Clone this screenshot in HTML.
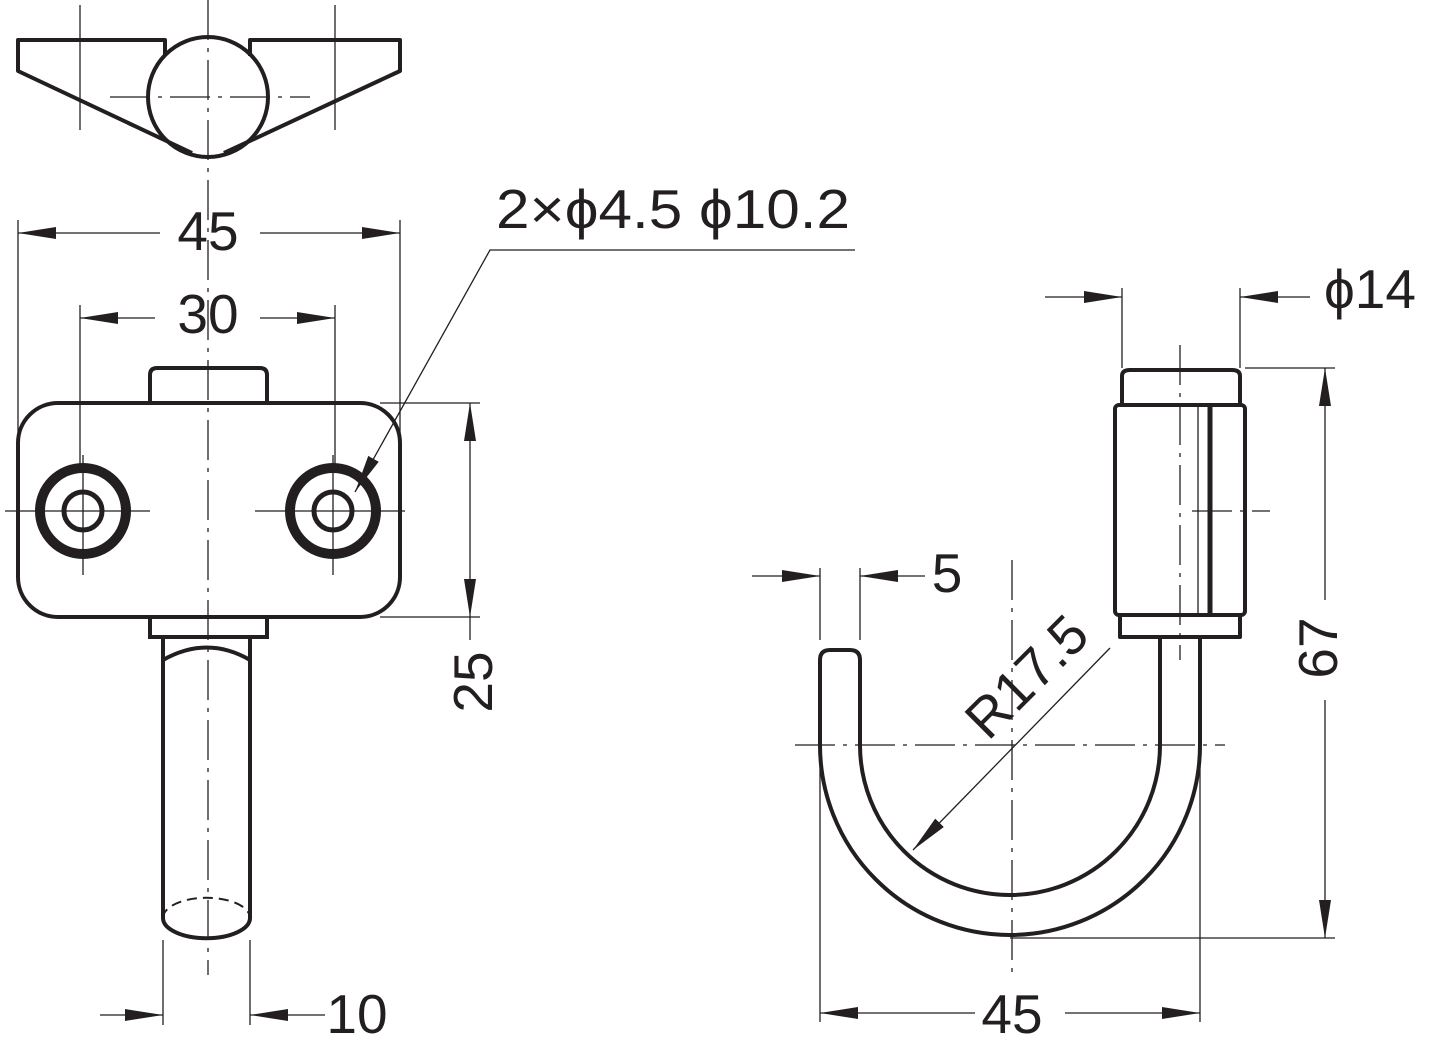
<!DOCTYPE html>
<html><head><meta charset="utf-8"><style>html,body{margin:0;padding:0;background:#fff}svg{display:block}text{font-family:"Liberation Sans",sans-serif;fill:#231f20}</style></head>
<body>
<svg width="1432" height="1046" viewBox="0 0 1432 1046" xmlns="http://www.w3.org/2000/svg">
<defs>
<marker id="a" markerWidth="40" markerHeight="14" refX="38" refY="7" orient="auto" markerUnits="userSpaceOnUse"><path d="M0,1 L38,7 L0,13 Z" fill="#231f20"/></marker>
</defs>
<g stroke="#231f20" fill="none">
<!-- centerlines -->
<g stroke-width="1.3" stroke-dasharray="40,8,4,8">
<line x1="208" y1="0" x2="208" y2="975"/>
<line x1="110" y1="97" x2="310" y2="97"/>
<line x1="1012" y1="560" x2="1012" y2="975"/>
<line x1="795" y1="745" x2="1225" y2="745"/>
<line x1="1180" y1="345" x2="1180" y2="660"/>
<line x1="1192" y1="511" x2="1270" y2="511"/>
</g>
<g stroke-width="1.3">
<line x1="5" y1="511" x2="150" y2="511"/>
<line x1="255" y1="511" x2="405" y2="511"/>
<line x1="83" y1="455" x2="83" y2="575"/>
<line x1="333" y1="455" x2="333" y2="575"/>
</g>
<!-- top view -->
<g stroke-width="4" stroke-linejoin="round">
<path d="M165,56 L165,40 L18,40 L18,71 L192,153"/>
<path d="M250,56 L250,40 L400,40 L400,71 L224,153"/>
<circle cx="208" cy="97" r="60"/>
</g>
<g stroke-width="1.3">
<line x1="80" y1="5" x2="80" y2="130"/>
<line x1="335" y1="5" x2="335" y2="130"/>
</g>
<!-- front view -->
<g stroke-width="4">
<rect x="18" y="403" width="382" height="214" rx="40"/>
<path d="M150,403 L150,375 Q150,368 157,368 L260,368 Q267,368 267,375 L267,403"/>
<rect x="150" y="617" width="117" height="20"/>
<path d="M163,637 L163,918 M250,637 L250,918"/>
<path d="M163,918 A43,20 0 0 0 250,918"/>
<path d="M163,660 Q207,635 250,660"/>
<circle cx="83" cy="511" r="43" stroke-width="10"/>
<circle cx="333" cy="511" r="43" stroke-width="10"/>
<circle cx="83" cy="511" r="19" stroke-width="5"/>
<circle cx="333" cy="511" r="19" stroke-width="5"/>
</g>
<path d="M163,918 A43,20 0 0 1 250,918" stroke-width="2" stroke-dasharray="10,6"/>
<g stroke-width="1.3">
<line x1="18" y1="220" x2="18" y2="440"/>
<line x1="400" y1="220" x2="400" y2="440"/>
<line x1="80" y1="305" x2="80" y2="470"/>
<line x1="335" y1="305" x2="335" y2="470"/>
<line x1="160" y1="233" x2="18" y2="233" marker-end="url(#a)"/>
<line x1="260" y1="233" x2="400" y2="233" marker-end="url(#a)"/>
<line x1="155" y1="318" x2="80" y2="318" marker-end="url(#a)"/>
<line x1="260" y1="318" x2="335" y2="318" marker-end="url(#a)"/>
<line x1="380" y1="403" x2="480" y2="403"/>
<line x1="380" y1="617" x2="480" y2="617"/>
<line x1="470" y1="510" x2="470" y2="403" marker-end="url(#a)"/>
<line x1="470" y1="510" x2="470" y2="617" marker-end="url(#a)"/>
<line x1="470" y1="617" x2="470" y2="640"/>
<line x1="163" y1="940" x2="163" y2="1025"/>
<line x1="250" y1="940" x2="250" y2="1025"/>
<line x1="100" y1="1015" x2="163" y2="1015" marker-end="url(#a)"/>
<line x1="325" y1="1015" x2="250" y2="1015" marker-end="url(#a)"/>
<polyline points="855,250 490,250 355,492" marker-end="url(#a)"/>
</g>
<!-- side view -->
<g stroke-width="4" stroke-linejoin="round">
<path d="M1122,403 L1122,376 Q1122,370 1130,370 L1232,370 Q1240,370 1240,376 L1240,403"/>
<rect x="1115" y="405" width="130" height="210" rx="4"/>
<path d="M1120,615 L1120,637 L1240,637 L1240,615"/>
<line x1="1210" y1="407" x2="1210" y2="613" stroke-width="5"/>
<path d="M1160,637 L1160,745 A150,150 0 0 1 860,745 L860,660 Q860,650 850,650 L830,650 Q820,650 820,660 L820,745 A190,190 0 0 0 1200,745 L1200,637"/>
</g>
<line x1="1198" y1="405" x2="1198" y2="615" stroke-width="1.3"/>
<g stroke-width="1.3">
<line x1="1122" y1="288" x2="1122" y2="368"/>
<line x1="1240" y1="288" x2="1240" y2="368"/>
<line x1="1045" y1="297" x2="1122" y2="297" marker-end="url(#a)"/>
<line x1="1310" y1="297" x2="1240" y2="297" marker-end="url(#a)"/>
<line x1="1245" y1="368" x2="1335" y2="368"/>
<line x1="1010" y1="938" x2="1335" y2="938"/>
<line x1="1325" y1="600" x2="1325" y2="368" marker-end="url(#a)"/>
<line x1="1325" y1="700" x2="1325" y2="938" marker-end="url(#a)"/>
<line x1="820" y1="568" x2="820" y2="640"/>
<line x1="860" y1="568" x2="860" y2="640"/>
<line x1="752" y1="576" x2="820" y2="576" marker-end="url(#a)"/>
<line x1="925" y1="576" x2="860" y2="576" marker-end="url(#a)"/>
<line x1="1110" y1="648" x2="913" y2="850" marker-end="url(#a)"/>
<line x1="820" y1="760" x2="820" y2="1022"/>
<line x1="1200" y1="760" x2="1200" y2="1022"/>
<line x1="975" y1="1013" x2="820" y2="1013" marker-end="url(#a)"/>
<line x1="1065" y1="1013" x2="1200" y2="1013" marker-end="url(#a)"/>
</g>
</g>
<g font-size="55" text-anchor="middle">
<text x="208" y="250">45</text>
<text x="208" y="333">30</text>
<text transform="translate(492,682) rotate(-90)">25</text>
<text x="357" y="1033">10</text>
<text x="496" y="228" text-anchor="start" textLength="354" lengthAdjust="spacingAndGlyphs">2×ϕ4.5 ϕ10.2</text>
<text x="1370" y="308">ϕ14</text>
<text transform="translate(1337,648) rotate(-90)">67</text>
<text x="947" y="592">5</text>
<text transform="translate(1040,690) rotate(-45)">R17.5</text>
<text x="1012" y="1033">45</text>
</g>
</svg>
</body></html>
